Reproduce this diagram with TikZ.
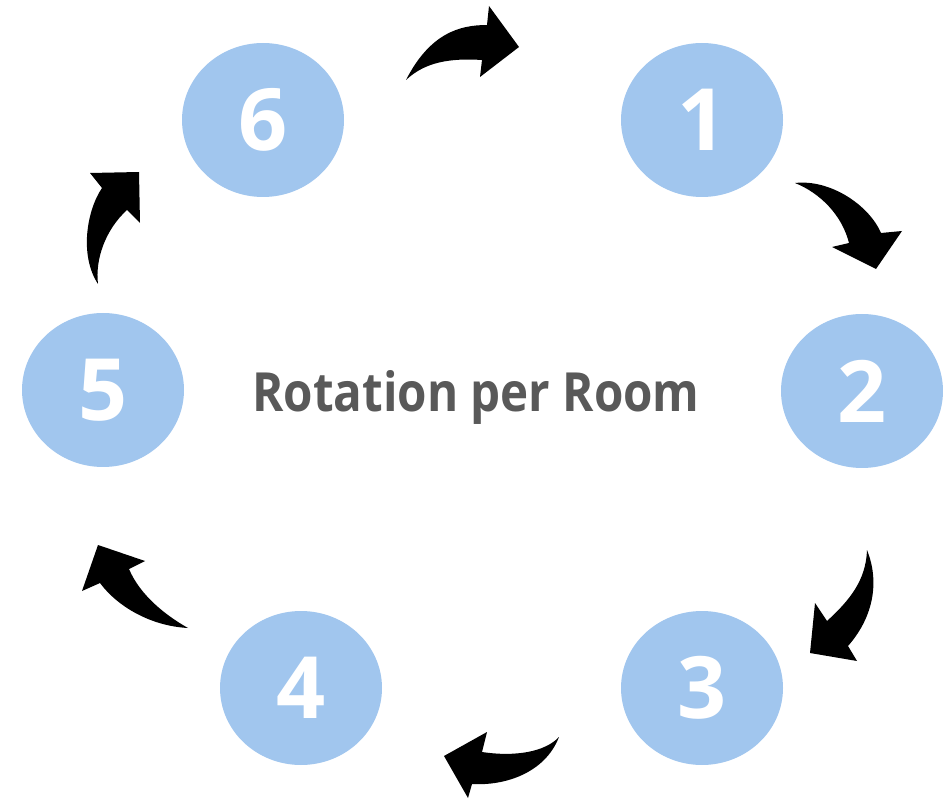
\documentclass[tikz,border=0pt]{standalone}
\usepackage{fontspec}
\setmainfont{Open Sans}
\usetikzlibrary{shapes.geometric}
\definecolor{roomblue}{RGB}{161,198,238}
\definecolor{titlegray}{RGB}{89,89,89}
\begin{document}
\begin{tikzpicture}[x=1pt,y=-1pt,
  room/.style={ellipse,fill=roomblue,draw=none,minimum width=162pt,minimum height=154pt,inner sep=0pt,
    text=white,font=\fontsize{86}{86}\selectfont\bfseries},
  bentarrow/.style={fill=black,draw=none}]
\useasboundingbox (0,0) rectangle (943,799);
\node[room] (r6) at (263,120) {6};
\node[room] (r1) at (702,120) {1};
\node[room] (r2) at (862,391) {2};
\node[room] (r3) at (702,688) {3};
\node[room] (r4) at (301,688) {4};
\node[room] (r5) at (103,390) {5};
\node[anchor=base,text=titlegray,font=\fontsize{54}{54}\selectfont\bfseries] (title) at (476,412) {\scalebox{0.88}[1]{Rotation per Room}};
% arrow 6 -> 1
\fill[bentarrow] (406,80) .. controls (430,33) and (460,25) .. (487,25) -- (489,6) -- (519,47) -- (480,77) -- (482,60) .. controls (450,58) and (425,62) .. cycle;
% arrow 1 -> 2
\fill[bentarrow] (795,183) .. controls (830,179) and (869,205) .. (881,233) -- (902,231) -- (876,269) -- (832,247) -- (849,243) .. controls (842,215) and (820,193) .. cycle;
% arrow 2 -> 3
\fill[bentarrow] (867,550) .. controls (881,585) and (871,620) .. (848,646) -- (857,661) -- (810,653) -- (815,603) -- (827,621) .. controls (850,600) and (866,580) .. cycle;
% arrow 3 -> 4
\fill[bentarrow] (559,737) .. controls (545,773) and (505,786) .. (472,784) -- (468,798) -- (444,756) -- (487,732) -- (482,752) .. controls (515,757) and (545,752) .. cycle;
% arrow 4 -> 5
\fill[bentarrow] (188,628) .. controls (150,626) and (117,606) .. (100,583) -- (82,591) -- (98,545) -- (145,561) -- (129,569) .. controls (140,595) and (165,615) .. cycle;
% arrow 5 -> 6
\fill[bentarrow] (98,284) .. controls (79,255) and (87,210) .. (102,188) -- (90,173) -- (139,172) -- (140,223) -- (127,210) .. controls (105,230) and (95,260) .. cycle;
\end{tikzpicture}
\end{document}
